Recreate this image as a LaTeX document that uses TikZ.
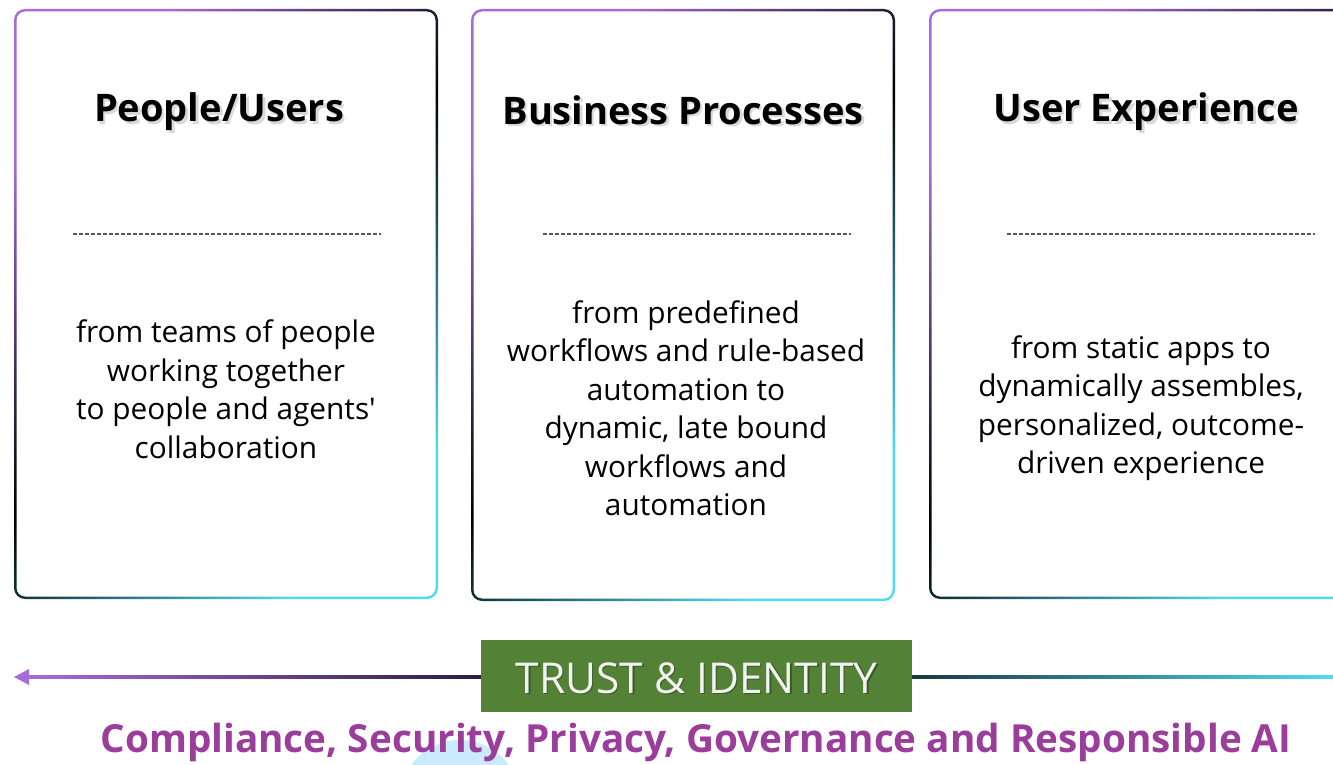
\documentclass[tikz,border=0pt]{standalone}
\usepackage{fontspec}
\setmainfont{Open Sans}
\newfontfamily\plainfont{Open Sans}
\usetikzlibrary{calc}
\definecolor{gpurple}{HTML}{A66CD9}
\definecolor{gcyan}{HTML}{4FDBF2}
\definecolor{ldark}{HTML}{2E1C40}
\definecolor{rdark}{HTML}{1A3840}
\definecolor{tgreen}{HTML}{538135}
\definecolor{cpurple}{HTML}{9B3D9B}
\definecolor{dashgray}{HTML}{595959}
\definecolor{blob}{HTML}{C9EBFB}
\definecolor{trusttext}{HTML}{F2F2F2}
\pgfdeclarehorizontalshading{bordershade}{100bp}{color(0bp)=(gpurple); color(25bp)=(gpurple); color(50bp)=(black); color(75bp)=(gcyan); color(100bp)=(gcyan)}
\pgfdeclarehorizontalshading{leftline}{100bp}{color(0bp)=(gpurple); color(25bp)=(gpurple); color(75bp)=(ldark); color(100bp)=(ldark)}
\pgfdeclarehorizontalshading{rightline}{100bp}{color(0bp)=(rdark); color(25bp)=(rdark); color(75bp)=(gcyan); color(100bp)=(gcyan)}
\begin{document}
\begin{tikzpicture}[x=1pt,y=-1pt,
  ring/.style={shading=bordershade, shading angle=-45, even odd rule},
  titletext/.style={font=\fontsize{38}{42}\selectfont\bfseries, text=black, inner sep=0pt},
  titleshadow/.style={font=\fontsize{38}{42}\selectfont\bfseries, text=black, opacity=0.15, inner sep=0pt},
  bodytext/.style={font=\fontsize{29.8}{38.5}\selectfont, align=center, inner sep=0pt, text=black},
  sepline/.style={draw=dashgray, line width=1.5pt, dash pattern=on 4pt off 2pt},
  trustbox/.style={fill=tgreen, minimum width=431pt, minimum height=72pt, inner sep=0pt},
  trustlabel/.style={font=\fontsize{42.5}{46}\selectfont, text=trusttext, inner sep=0pt},
  bottomtext/.style={font=\fontsize{38.7}{42}\selectfont\bfseries, text=cpurple, inner sep=0pt}
]
\useasboundingbox (0,0) rectangle (1333,765);
\clip (0,0) rectangle (1333,765);
\fill[white] (0,0) rectangle (1333,765);

% light blue blob behind bottom text
\fill[blob] (460,800) circle (60);

% boxes (gradient borders)
\path[ring] [rounded corners=11] (14,9) rectangle (438,599) [rounded corners=8.5] (16.5,11.5) rectangle (435.5,596.5);
\path[ring] [rounded corners=11] (471,9) rectangle (895,601) [rounded corners=8.5] (473.5,11.5) rectangle (892.5,598.5);
\path[ring] [rounded corners=11] (929,9) rectangle (1380,599) [rounded corners=8.5] (931.5,11.5) rectangle (1377.5,596.5);

% titles
\node[titleshadow] at (221.5,114.5) {People/Users};
\node[titletext] (t1) at (219,112) {People/Users};
\node[titleshadow] at (685.5,112.5) {Business Processes};
\node[titletext] (t2) at (683,110) {Business Processes};
\node[titleshadow] at (1148.5,114.5) {User Experience};
\node[titletext] (t3) at (1146,112) {User Experience};

% dashed separators
\draw[sepline] (73,234) -- (381,234);
\draw[sepline] (543,234) -- (851,234);
\draw[sepline] (1007,234) -- (1315,234);

% body texts
\node[bodytext] (b1) at (226,389) {from teams of people\\working together\\to people and agents{\plainfont '}\\collaboration};
\node[bodytext] (b2) at (686,408) {from predefined\\workflows and rule-based\\automation to\\dynamic, late bound\\workflows and\\automation};
\node[bodytext] (b3) at (1141,408) {from static apps to\\dynamically assembles,\\personalized, outcome-\\driven experience};

% trust & identity bar
\node[trustbox] (trust) at (696.5,676) {};
\coordinate (arrL) at (14,677);
\coordinate (arrR) at (1333,677);
\shade[shading=leftline] ($(arrL)+(14,-1.3)$) rectangle ($(trust.west |- arrL)+(0,1.3)$);
\shade[shading=rightline] ($(trust.east |- arrL)+(0,-1.3)$) rectangle ($(arrR)+(0,1.3)$);
\fill[gpurple] (arrL) -- ++(15,-8) -- ++(0,16) -- cycle;
\node[trustlabel, text=black, opacity=0.3] at ($(trust.center)+(1.5,3.5)$) {TRUST \& IDENTITY};
\node[trustlabel] (trustlab) at ($(trust.center)+(0,2)$) {TRUST \& IDENTITY};

% bottom caption
\node[bottomtext] (caption) at (696,742.5) {Compliance, Security, Privacy, Governance and Responsible AI};
\end{tikzpicture}
\end{document}
